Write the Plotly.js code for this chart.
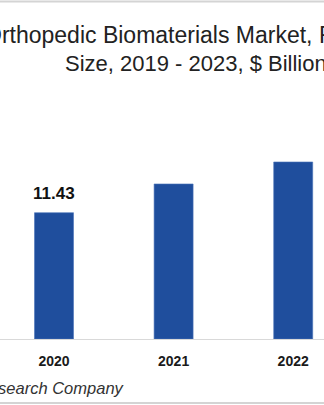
<!DOCTYPE html>
<html>
<head>
<meta charset="utf-8">
<script src="https://cdn.plot.ly/plotly-3.0.1.min.js"></script>
<style>
html,body{margin:0;padding:0;background:#fff;overflow:hidden;}
#chart{width:324px;height:405px;}
</style>
</head>
<body>
<div id="chart"></div>
<script>
// Data read from the (cropped) reference
const years = ['2020', '2021', '2022'];
const marketSize = [11.43, 14.03, 16.02];   // $ Billion
const shownLabels = ['11.43', '', ''];
const titleLine1 = 'Orthopedic Biomaterials Market, Forecast Market';
const titleLine2 = 'Size, 2019 - 2023, $ Billion';
const sourceText = 'Source: The Business Research Company';

const W = 324, H = 405;
const M = {l: 0, r: 0, t: 100, b: 66};
const plotH = H - M.t - M.b;
const py = p => (H - M.b - p) / plotH;   // pixel row -> paper y
const px = p => (p - M.l) / (W - M.l - M.r);
const FONT = 'Liberation Sans, Arial, sans-serif';

const trace = {
  type: 'bar',
  x: years,
  y: marketSize,
  width: 0.326,
  marker: {color: '#1f4e9d', line: {color: '#4a72b8', width: 0.6}},
  hoverinfo: 'none'
};

const annotations = [];
years.forEach((yr, i) => {
  if (shownLabels[i]) {
    annotations.push({
      x: i, y: marketSize[i], xref: 'x', yref: 'y',
      text: '<b>' + shownLabels[i] + '</b>',
      showarrow: false, yanchor: 'bottom', yshift: 8,
      font: {family: FONT, size: 17, color: '#111'}
    });
  }
});
annotations.push({
  x: px(-18), y: py(35), xref: 'paper', yref: 'paper', xanchor: 'left', yanchor: 'middle',
  text: titleLine1, showarrow: false,
  font: {family: FONT, size: 23, color: '#222'}
});
annotations.push({
  x: px(63), y: py(63), xref: 'paper', yref: 'paper', xanchor: 'left', yanchor: 'middle',
  text: titleLine2, showarrow: false,
  font: {family: FONT, size: 22, color: '#222'}
});
annotations.push({
  x: px(127), y: py(388), xref: 'paper', yref: 'paper', xanchor: 'right', yanchor: 'middle',
  text: '<i>' + sourceText + '</i>', showarrow: false,
  font: {family: FONT, size: 16.5, color: '#333'}
});

const layout = {
  width: W, height: H,
  margin: M,
  paper_bgcolor: '#fff', plot_bgcolor: '#fff',
  showlegend: false,
  xaxis: {
    type: 'category', range: [-0.4515, 2.2575],
    showline: true, linecolor: '#d9d9d9', linewidth: 1,
    showgrid: false, zeroline: false, ticks: '',
    ticklabelstandoff: 9,
    tickfont: {family: FONT, size: 14, color: '#1a1a1a', weight: 'bold'},
    fixedrange: true
  },
  yaxis: {range: [0, 21.63], visible: false, fixedrange: true},
  annotations: annotations,
  shapes: [
    {type: 'line', xref: 'paper', yref: 'paper', x0: 0, x1: 1, y0: py(1.5), y1: py(1.5),
     line: {color: '#d4d4d4', width: 2}},
    {type: 'line', xref: 'paper', yref: 'paper', x0: 0, x1: 1, y0: py(403), y1: py(403),
     line: {color: '#d4d4d4', width: 2}}
  ]
};

Plotly.newPlot('chart', [trace], layout, {displayModeBar: false, staticPlot: true});
</script>
</body>
</html>
